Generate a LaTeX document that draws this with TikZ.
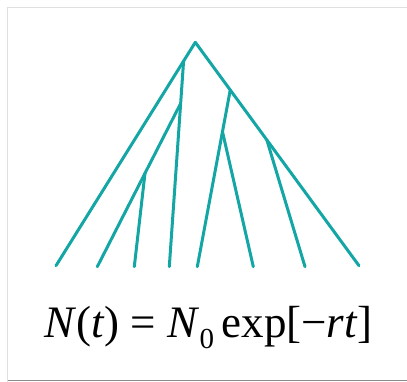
\documentclass[tikz,border=0pt]{standalone}
\usepackage{fontspec}
\setmainfont{Liberation Serif}
\usetikzlibrary{positioning,calc}
\definecolor{lineage}{RGB}{20,165,165}

\begin{document}
\begin{tikzpicture}[x=1pt, y=-1pt,
  branch/.style={draw=lineage, line width=3pt, line cap=round, line join=round},
  frame/.style={draw=black!12, line width=1pt},
]
\useasboundingbox (0,0) rectangle (407,382);

% Frame
\draw[frame] (7.5,382) -- (7.5,7.5) -- (407,7.5);
\draw[black!45, line width=1pt] (7.5,380) -- (407,380);

% Tips
\coordinate (root) at (195.3,42.3);
\coordinate (t1) at (56,265.7);
\coordinate (t2) at (169.3,266.7);
\coordinate (t3) at (97.3,266.7);
\coordinate (t4) at (134.3,266.7);
\coordinate (t5) at (197.3,266.7);
\coordinate (t6) at (253.3,266.7);
\coordinate (t7) at (305,266.7);
\coordinate (t8) at (359,265.7);

% Branch points
\coordinate (a) at ($(root)!0.084!(t1)$);
\coordinate (b) at ($(a)!0.206!(t2)$);
\coordinate (c) at ($(b)!0.428!(t3)$);
\coordinate (d) at ($(root)!0.2135!(t8)$);
\coordinate (e) at ($(d)!0.236!(t5)$);
\coordinate (f) at ($(root)!0.437!(t8)$);

% Lineages
\draw[branch] (t1) -- (root) -- (t8);
\draw[branch] (a) -- (t2);
\draw[branch] (b) -- (t3);
\draw[branch] (c) -- (t4);
\draw[branch] (d) -- (t5);
\draw[branch] (e) -- (t6);
\draw[branch] (f) -- (t7);

% Law
\node[font=\fontsize{45}{45}\selectfont, anchor=base, inner sep=0pt] (law) at (208.5,337)
  {\textit{N}(\textit{t}) = \textit{N}\raisebox{-11pt}{\fontsize{29}{29}\selectfont 0}\,exp[−\textit{rt}]};
\end{tikzpicture}
\end{document}
